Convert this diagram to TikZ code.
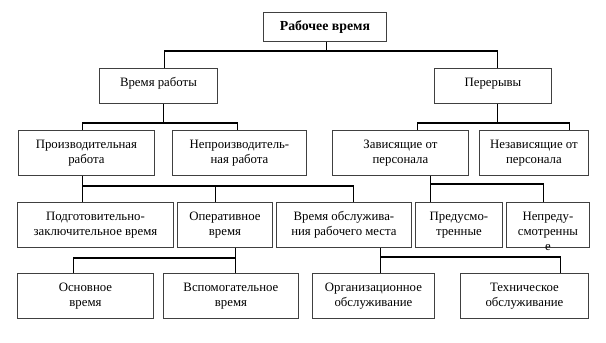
\documentclass[tikz,border=0pt]{standalone}
\usepackage{fontspec}
\setmainfont{Liberation Serif}
\newcommand\bxt[3]{\parbox[c][#2pt][t]{#1pt}{\centering\rule{0pt}{18pt}#3\par}}
\tikzset{
  box/.style={draw=black!75, line width=0.9pt, inner sep=0pt, anchor=north west,
    font=\fontsize{12.8}{15}\selectfont},
  conn/.style={draw=black, line width=1.8pt}
}
\begin{document}
\begin{tikzpicture}[x=1pt,y=-1pt]
\useasboundingbox (0,0) rectangle (606,343);
% level 0
\node[box] (top) at (263,12) {\bxt{123}{29}{\fontsize{13.8}{15}\selectfont\textbf{Рабочее время}}};
% level 1
\node[box] (vr) at (99,68) {\bxt{118}{35}{Время работы}};
\node[box] (per) at (434,68) {\bxt{117}{35}{Перерывы}};
% level 2
\node[box] (prod) at (18,130) {\bxt{136}{45}{Производительная\\работа}};
\node[box] (neprod) at (172,130) {\bxt{134}{45}{Непроизводитель-\\ная работа}};
\node[box] (zav) at (332,130) {\bxt{136}{45}{Зависящие от\\персонала}};
\node[box] (nezav) at (479,130) {\bxt{109}{45}{Независящие от\\персонала}};
% level 3
\node[box] (podg) at (17,202) {\bxt{156}{45}{Подготовительно-\\заключительное время}};
\node[box] (oper) at (177,202) {\bxt{95}{45}{Оперативное\\время}};
\node[box] (vobs) at (276,202) {\bxt{135}{45}{Время обслужива-\\ния рабочего места}};
\node[box] (pred) at (415,202) {\bxt{87}{45}{Предусмо-\\тренные}};
\node[box] (nepred) at (506,202) {\bxt{83}{45}{Непреду-\\смотренны\\е}};
% level 4
\node[box] (osn) at (17,273) {\bxt{136}{45}{Основное\\время}};
\node[box] (vsp) at (163,273) {\bxt{135}{45}{Вспомогательное\\время}};
\node[box] (org) at (312,273) {\bxt{122}{45}{Организационное\\обслуживание}};
\node[box] (tech) at (460,273) {\bxt{128}{45}{Техническое\\обслуживание}};
% connectors
\draw[conn] ([xshift=1.5pt]top.south) -- ++(0,9) coordinate (j1);
\draw[conn] ([xshift=6pt]vr.north) |- (j1) -| ([xshift=4.5pt]per.north);
\draw[conn] ([xshift=5pt]vr.south) -- ++(0,19) coordinate (j2);
\draw[conn] ([xshift=-4pt]prod.north) |- (j2) -| ([xshift=-2pt]neprod.north);
\draw[conn] ([xshift=4.5pt]per.south) -- ++(0,19) coordinate (j3);
\draw[conn] ([xshift=17pt]zav.north) |- (j3) -| ([xshift=35.5pt]nezav.north);
\draw[conn] ([xshift=-4pt]prod.south) -- ++(0,10) coordinate (j4);
\draw[conn] ([xshift=-13pt]podg.north) |- (j4) -| ([xshift=9.5pt]vobs.north);
\draw[conn] ([xshift=-9.5pt]oper.north) -- ([xshift=-9.5pt]oper.north |- j4);
\draw[conn] ([xshift=30pt]zav.south) -- ++(0,8) coordinate (j5);
\draw[conn] ([xshift=-28.5pt]pred.north) |- (j5) -| ([xshift=-4.5pt]nepred.north);
\draw[conn] ([xshift=10.5pt]oper.south) -- ++(0,10) coordinate (j6);
\draw[conn] ([xshift=-12pt]osn.north) |- (j6) -| ([xshift=4.5pt]vsp.north);
\draw[conn] ([xshift=36.5pt]vobs.south) -- ++(0,9) coordinate (j7);
\draw[conn] ([xshift=7pt]org.north) |- (j7) -| ([xshift=36pt]tech.north);
\end{tikzpicture}
\end{document}
